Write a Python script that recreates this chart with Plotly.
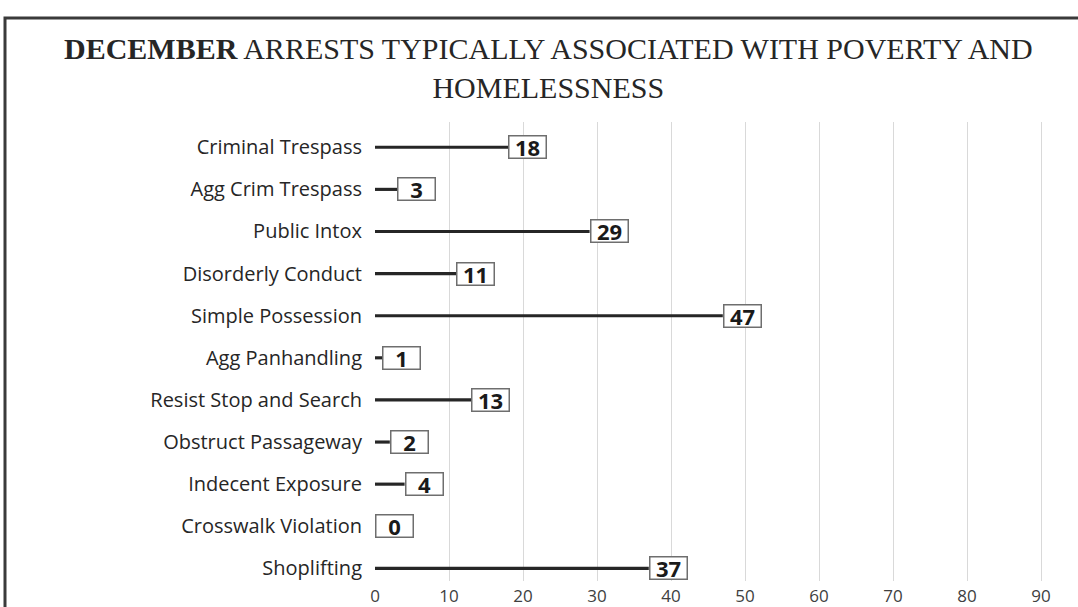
import plotly.graph_objects as go

categories = ["Criminal Trespass", "Agg Crim Trespass", "Public Intox", "Disorderly Conduct",
              "Simple Possession", "Agg Panhandling", "Resist Stop and Search",
              "Obstruct Passageway", "Indecent Exposure", "Crosswalk Violation", "Shoplifting"]
arrests = [18, 3, 29, 11, 47, 1, 13, 2, 4, 0, 37]
x_ticks = [0, 10, 20, 30, 40, 50, 60, 70, 80, 90]
title_text = "<b>DECEMBER</b> ARRESTS TYPICALLY ASSOCIATED WITH POVERTY AND<br>HOMELESSNESS"

# plot bottom-to-top
cats_bt = categories[::-1]
vals_bt = arrests[::-1]

W, H = 1078, 607
L, R, T, B = 375, 0, 122, 26
pw = W - L - R
ph = H - T - B

fig = go.Figure()
fig.add_trace(go.Bar(
    y=cats_bt, x=vals_bt, orientation="h", width=0.075,
    marker=dict(color="#262626", line=dict(width=0)),
    hoverinfo="skip",
))

for c, v in zip(cats_bt, vals_bt):
    fig.add_annotation(
        x=v, y=c, xref="x", yref="y", xanchor="left", yanchor="middle",
        text=f"<b>{v}</b>", showarrow=False,
        font=dict(family="Open Sans", size=22, color="#1a1a1a"),
        bgcolor="white", bordercolor="#6e6e6e", borderwidth=1.5, borderpad=0,
        width=36, height=21,
    )

# title
fig.add_annotation(
    x=(548 - L) / pw, y=(H - B - 30) / ph, xref="paper", yref="paper",
    xanchor="center", yanchor="top", align="center", showarrow=False,
    text=title_text,
    font=dict(family="Liberation Serif", size=30, color="#262626"),
)

fig.add_shape(type="rect", xref="paper", yref="paper",
              x0=(5 - L) / pw, x1=(W + 20 - L) / pw,
              y0=(H - B - (H + 20)) / ph, y1=(H - B - 18) / ph,
              line=dict(color="#3a3a3a", width=3), fillcolor="rgba(0,0,0,0)", layer="below")

fig.update_layout(
    width=W, height=H,
    margin=dict(l=L, r=R, t=T, b=B, pad=0),
    paper_bgcolor="white", plot_bgcolor="white",
    showlegend=False,
    xaxis=dict(
        range=[0, 95], tickvals=x_ticks, showgrid=True, gridcolor="#d9d9d9", gridwidth=1,
        zeroline=True, zerolinecolor="white", zerolinewidth=2,
        showline=False, ticks="", tickfont=dict(family="Open Sans", size=17, color="#404040"),
        ticklabelstandoff=3,
    ),
    yaxis=dict(
        categoryorder="array", categoryarray=cats_bt, range=[-0.3, 10.6],
        showgrid=False, zeroline=False, showline=False, ticks="",
        tickfont=dict(family="Open Sans", size=20, color="#262626"),
        ticklabelstandoff=12,
    ),
)

fig.write_html("out.html")
